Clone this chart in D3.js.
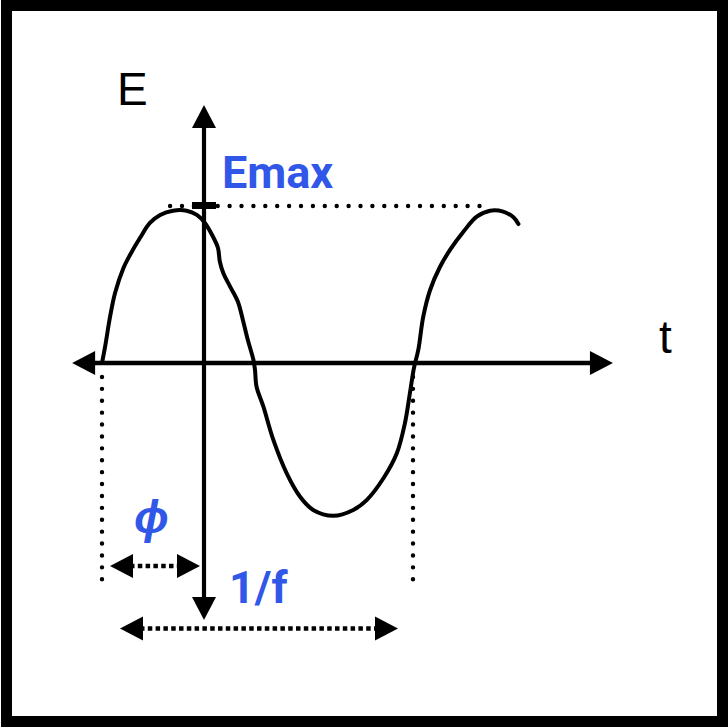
<!DOCTYPE html>
<html>
<head>
<meta charset="utf-8">
<script src="https://cdn.jsdelivr.net/npm/d3@7"></script>
<style>
  html, body { margin: 0; padding: 0; background: #fff; }
  svg { display: block; }
</style>
</head>
<body>
<svg id="chart" width="728" height="728"></svg>
<script>
// ---- Data (t in periods, E in units of Emax) ----
const waveT = [-0.328,-0.318,-0.302,-0.286,-0.259,-0.238,-0.206,-0.174,-0.141,-0.100,-0.056,-0.023,0.003,0.029,0.045,0.051,0.062,0.084,0.109,0.125,0.141,0.159,0.164,0.169,0.191,0.223,0.266,0.309,0.351,0.416,0.480,0.523,0.577,0.620,0.646,0.662,0.675,0.689,0.705,0.727,0.759,0.791,0.834,0.877,0.920,0.962,0.995,1.011];
const waveE = [0.000,0.104,0.295,0.446,0.605,0.688,0.796,0.892,0.943,0.970,0.970,0.943,0.892,0.804,0.732,0.645,0.573,0.486,0.390,0.274,0.146,0.019,-0.045,-0.151,-0.278,-0.490,-0.703,-0.852,-0.936,-0.973,-0.936,-0.873,-0.734,-0.575,-0.384,-0.193,-0.032,0.083,0.295,0.465,0.613,0.720,0.836,0.932,0.970,0.964,0.928,0.885];

const axisLabels = ["E", "t"];
const annotationLabels = ["Emax", "\u03D5", "1/f"];
const Emax = 1;
const phaseT = -0.328;      // start of the wave (phase shift)
const periodEndT = 0.672;   // one period later
const tRange = [-0.424, 1.315];
const eRange = [-1.637, 1.643];

// ---- Scales ----
const x = d3.scaleLinear().domain([0, 1]).range([204, 515]);
const y = d3.scaleLinear().domain([0, 1]).range([363, 206]);

const svg = d3.select("#chart");
const blue = "#3157e8";

// frame
svg.append("rect")
  .attr("x", 6.5).attr("y", 5.5).attr("width", 716).attr("height", 716)
  .attr("fill", "#fff").attr("stroke", "#000").attr("stroke-width", 11);

function arrowHead(tipX, tipY, dir) {
  const L = 23, W = 12;
  let pts;
  if (dir === "left") pts = [[tipX, tipY], [tipX + L, tipY - W], [tipX + L, tipY + W]];
  if (dir === "right") pts = [[tipX, tipY], [tipX - L, tipY - W], [tipX - L, tipY + W]];
  if (dir === "up") pts = [[tipX, tipY], [tipX - W, tipY + L], [tipX + W, tipY + L]];
  if (dir === "down") pts = [[tipX, tipY], [tipX - W, tipY - L], [tipX + W, tipY - L]];
  svg.append("path").attr("d", "M" + pts.map(p => p.join(",")).join("L") + "Z").attr("fill", "#000");
}

// dotted guide lines
const dotStyle = sel => sel.attr("stroke", "#000").attr("stroke-width", 4.4)
  .attr("stroke-linecap", "round").attr("stroke-dasharray", "0,11.9").attr("fill", "none");

svg.append("line").call(dotStyle)
  .attr("x1", x(-0.109)).attr("x2", x(0.904)).attr("y1", y(Emax)).attr("y2", y(Emax));
svg.append("line").call(dotStyle)
  .attr("x1", x(phaseT)).attr("x2", x(phaseT)).attr("y1", y(-0.089)).attr("y2", y(-1.39));
svg.append("line").call(dotStyle)
  .attr("x1", x(periodEndT)).attr("x2", x(periodEndT)).attr("y1", y(-0.089)).attr("y2", y(-1.39));

// axes
svg.append("line").attr("x1", x(tRange[0]) + 10).attr("x2", x(tRange[1]) - 10)
  .attr("y1", y(0)).attr("y2", y(0)).attr("stroke", "#000").attr("stroke-width", 4.6);
svg.append("line").attr("x1", x(0)).attr("x2", x(0))
  .attr("y1", y(eRange[1]) + 10).attr("y2", y(eRange[0]) - 10).attr("stroke", "#000").attr("stroke-width", 4.2);
arrowHead(x(tRange[0]), y(0), "left");
arrowHead(x(tRange[1]), y(0), "right");
arrowHead(x(0), y(eRange[1]), "up");
arrowHead(x(0), y(eRange[0]), "down");

// Emax tick
svg.append("line").attr("x1", x(0) - 12).attr("x2", x(0) + 12)
  .attr("y1", y(Emax) - 0.5).attr("y2", y(Emax) - 0.5).attr("stroke", "#000").attr("stroke-width", 7);

// wave
const pts = waveT.map((t, i) => [t, waveE[i]]);
svg.append("path").datum(pts)
  .attr("d", d3.line().x(d => x(d[0])).y(d => y(d[1])).curve(d3.curveCatmullRom.alpha(0.5)))
  .attr("fill", "none").attr("stroke", "#000").attr("stroke-width", 4)
  .attr("stroke-linecap", "round").attr("stroke-linejoin", "round");

// dashed double arrows
function dashedArrow(x1, x2, yy) {
  svg.append("line").attr("x1", x1 + 20).attr("x2", x2 - 20).attr("y1", yy).attr("y2", yy)
    .attr("stroke", "#000").attr("stroke-width", 4.6).attr("stroke-dasharray", "4.5,3.3");
  arrowHead(x1, yy, "left");
  arrowHead(x2, yy, "right");
}
dashedArrow(110, 200, 566);
dashedArrow(120, 398, 628.5);

// labels
svg.append("text").text(axisLabels[0]).attr("x", 117).attr("y", 105)
  .attr("font-family", "Liberation Sans, Arial, sans-serif").attr("font-size", 46).attr("fill", "#000");
svg.append("text").text(axisLabels[1]).attr("x", 659).attr("y", 353)
  .attr("font-family", "Liberation Sans, Arial, sans-serif").attr("font-size", 46).attr("fill", "#000");

svg.append("text").text(annotationLabels[0]).attr("x", 222).attr("y", 188)
  .attr("font-family", "Roboto, sans-serif").attr("font-weight", "bold").attr("font-size", 45).attr("fill", blue);
svg.append("text").text(annotationLabels[1]).attr("x", 134).attr("y", 533)
  .attr("font-family", "Roboto, sans-serif").attr("font-weight", "bold").attr("font-style", "italic")
  .attr("font-size", 46).attr("fill", blue);
svg.append("text").text(annotationLabels[2]).attr("x", 229).attr("y", 603)
  .attr("font-family", "Roboto, sans-serif").attr("font-weight", "bold").attr("font-size", 45).attr("fill", blue);
</script>
</body>
</html>
